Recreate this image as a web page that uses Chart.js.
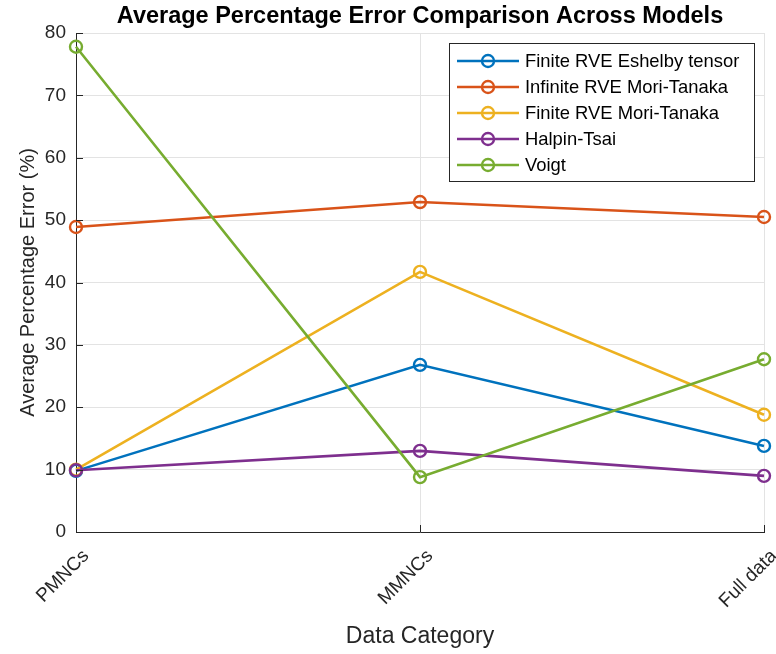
<!DOCTYPE html>
<html><head><meta charset="utf-8">
<script src="https://cdn.jsdelivr.net/npm/chart.js@4/dist/chart.umd.min.js"></script>
<style>html,body{margin:0;padding:0;background:#fff;}#wrap{width:776px;height:654px;position:relative;}</style>
</head><body>
<div id="wrap"><canvas id="c" width="776" height="654"></canvas></div>
<script>
const categories = ['PMNCs', 'MMNCs', 'Full data'];
const seriesNames = ['Finite RVE Eshelby tensor', 'Infinite RVE Mori-Tanaka', 'Finite RVE Mori-Tanaka', 'Halpin-Tsai', 'Voigt'];
const eshelbyFinite = [9.8, 26.8, 13.8];
const moriTanakaInfinite = [48.9, 52.9, 50.5];
const moriTanakaFinite = [10.0, 41.7, 18.8];
const halpinTsai = [9.9, 13.0, 9.0];
const voigt = [77.8, 8.8, 27.7];
const yTickMin = 0, yTickMax = 80, yTickStep = 10;

const colors = ['#0072BD', '#D95319', '#EDB120', '#7E2F8E', '#77AC30'];
const seriesValues = [eshelbyFinite, moriTanakaInfinite, moriTanakaFinite, halpinTsai, voigt];
const FONT = "'Liberation Sans', Arial, Helvetica, sans-serif";
const AX = '#262626';

const datasets = seriesValues.map((vals, i) => ({
  label: seriesNames[i],
  data: vals,
  borderColor: colors[i],
  backgroundColor: 'rgba(0,0,0,0)',
  pointBackgroundColor: 'rgba(0,0,0,0)',
  pointBorderColor: colors[i],
  pointRadius: 6,
  pointBorderWidth: 2.4,
  borderWidth: 2.6,
  tension: 0,
  clip: false,
  order: seriesValues.length - i
}));

const tickMarks = {
  id: 'tickMarks',
  afterDatasetsDraw(chart) {
    const ctx = chart.ctx, a = chart.chartArea;
    const ys = chart.scales.y, xs = chart.scales.x;
    ctx.save();
    ctx.strokeStyle = AX; ctx.lineWidth = 1;
    ctx.beginPath();
    ys.ticks.forEach(t => {
      const py = Math.round(ys.getPixelForValue(t.value)) + 0.5;
      ctx.moveTo(a.left, py); ctx.lineTo(a.left + 7, py);
    });
    categories.forEach((c, i) => {
      const px = Math.round(xs.getPixelForValue(i)) + 0.5;
      ctx.moveTo(px, a.bottom); ctx.lineTo(px, a.bottom - 7);
    });
    ctx.stroke();
    ctx.restore();
  }
};

const boxLegend = {
  id: 'boxLegend',
  afterDraw(chart) {
    const ctx = chart.ctx;
    const x0 = 449.5, y0 = 43.5, w = 305, h = 138;
    ctx.save();
    ctx.fillStyle = '#fff';
    ctx.fillRect(x0, y0, w, h);
    ctx.strokeStyle = AX; ctx.lineWidth = 1;
    ctx.strokeRect(x0, y0, w, h);
    ctx.font = '18.4px ' + FONT;
    ctx.textBaseline = 'middle';
    ctx.textAlign = 'left';
    chart.data.datasets.forEach((ds, i) => {
      const cy = 61 + i * 26;
      ctx.strokeStyle = ds.borderColor;
      ctx.lineWidth = 2.6;
      ctx.beginPath(); ctx.moveTo(457, cy); ctx.lineTo(519, cy); ctx.stroke();
      ctx.lineWidth = 2.4;
      ctx.beginPath(); ctx.arc(488, cy, 6, 0, Math.PI * 2); ctx.stroke();
      ctx.fillStyle = '#000';
      ctx.fillText(ds.label, 525, cy + 1);
    });
    ctx.restore();
  }
};

new Chart(document.getElementById('c'), {
  type: 'line',
  data: { labels: categories, datasets },
  options: {
    responsive: false,
    animation: false,
    layout: { padding: { left: 0, top: 0, bottom: 0, right: 12 } },
    plugins: {
      legend: { display: false },
      tooltip: { enabled: false },
      title: {
        display: true,
        text: 'Average Percentage Error Comparison Across Models',
        fullSize: false,
        color: '#000',
        font: { family: FONT, size: 23.5, weight: 'bold', lineHeight: 1.2 },
        padding: { top: 2, bottom: 2.8 }
      }
    },
    scales: {
      x: {
        type: 'category',
        offset: false,
        afterFit(s) { s.height = 122; s.paddingRight = 0; s.paddingLeft = 0; },
        grid: { color: '#e3e3e3', lineWidth: 1, drawTicks: false },
        border: { color: AX, width: 1 },
        ticks: {
          autoSkip: false, minRotation: 45, maxRotation: 45,
          color: AX, padding: 13, labelOffset: 10,
          font: { family: FONT, size: 19 }
        },
        title: {
          display: true, text: 'Data Category', color: AX,
          font: { family: FONT, size: 23 },
          padding: { top: 0, bottom: 4 }
        }
      },
      y: {
        min: yTickMin, max: yTickMax,
        afterFit(s) { s.width = 76; },
        grid: { color: '#e3e3e3', lineWidth: 1, drawTicks: false },
        border: { color: AX, width: 1 },
        ticks: {
          stepSize: yTickStep, color: AX, padding: 10,
          font: { family: FONT, size: 19 }
        },
        title: {
          display: true, text: 'Average Percentage Error (%)', color: AX,
          font: { family: FONT, size: 20 },
          padding: { top: 16, bottom: 0 }
        }
      }
    }
  },
  plugins: [tickMarks, boxLegend]
});
</script>
</body></html>
